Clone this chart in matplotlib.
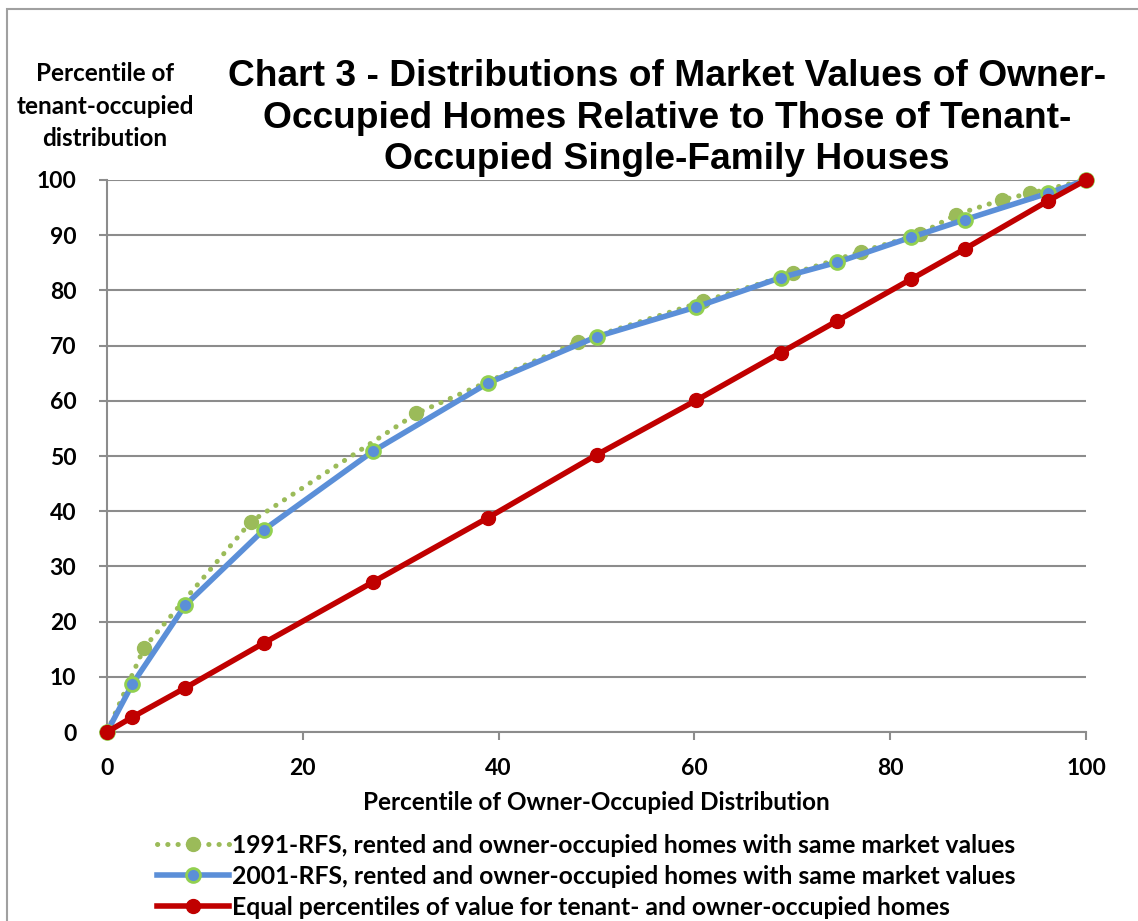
import matplotlib.pyplot as plt
from matplotlib.patches import Rectangle

# owner-occupied percentile (x) / tenant-occupied percentile (y)
x_1991 = [0, 3.8, 14.7, 31.6, 48.1, 60.9, 70.1, 77.0, 83.0, 86.7, 91.4, 94.3, 100]
y_1991 = [0, 15.3, 38.1, 57.7, 70.7, 78.0, 83.1, 87.0, 90.2, 93.7, 96.4, 97.6, 100]

x_2001 = [0, 2.6, 8.0, 16.0, 27.2, 38.9, 50.0, 60.2, 68.8, 74.6, 82.1, 87.6, 96.1, 100]
y_2001 = [0, 8.7, 23.0, 36.6, 50.9, 63.2, 71.6, 77.0, 82.3, 85.1, 89.6, 92.8, 97.6, 100]

x_equal = [0, 2.6, 8.0, 16.0, 27.2, 38.9, 50.0, 60.2, 68.8, 74.6, 82.1, 87.6, 96.1, 100]
y_equal = [0, 2.7, 8.0, 16.1, 27.2, 38.8, 50.2, 60.1, 68.7, 74.5, 82.0, 87.5, 96.2, 100]

labels = ['1991-RFS, rented and owner-occupied homes with same market values',
          '2001-RFS, rented and owner-occupied homes with same market values',
          'Equal percentiles of value for tenant- and owner-occupied homes']

green = '#9BBB59'
blue = '#5B8FD8'
red = '#C00000'
grid = '#8C8C8C'
lab_font = 'Lato'

fig = plt.figure(figsize=(11.38, 9.21), dpi=100)
W, H = 1138, 921
ax = fig.add_axes([107 / W, 1 - 732 / H, (1086 - 107) / W, (732 - 180) / H])

ax.plot(x_1991, y_1991, color=green, lw=3.6, linestyle=(0, (0.05, 2.0)),
        dash_capstyle='round', marker='o', ms=10, mfc=green, mec=green,
        label=labels[0], zorder=3, clip_on=False)
ax.plot(x_2001, y_2001, color=blue, lw=4, marker='o', ms=10, mfc=blue,
        mec='#92D050', mew=2, label=labels[1], zorder=4, clip_on=False)
ax.plot(x_equal, y_equal, color=red, lw=4, marker='o', ms=10, mfc=red,
        mec=red, label=labels[2], zorder=5, clip_on=False)

ax.set_xlim(0, 100)
ax.set_ylim(0, 100)
ax.set_xticks(range(0, 101, 20))
ax.set_yticks(range(0, 101, 10))
ax.grid(axis='y', color=grid, lw=1.5)
ax.set_axisbelow(True)
for s in ['top', 'right']:
    ax.spines[s].set_visible(False)
for s in ['left', 'bottom']:
    ax.spines[s].set_color(grid)
    ax.spines[s].set_linewidth(1.5)
ax.tick_params(axis='both', color=grid, width=1.5, length=6, direction='out')
for t in ax.get_xticklabels() + ax.get_yticklabels():
    t.set_fontfamily(lab_font)
    t.set_fontweight('bold')
    t.set_fontsize(16.5)
ax.tick_params(axis='x', pad=13)
ax.tick_params(axis='y', pad=16)

ax.set_xlabel('Percentile of Owner-Occupied Distribution', fontfamily=lab_font,
              fontweight='bold', fontsize=17.5, labelpad=8)

fig.text(105 / W, 1 - 106 / H, 'Percentile of\ntenant-occupied\ndistribution',
         ha='center', va='center', fontfamily=lab_font, fontweight='bold',
         fontsize=17.5, linespacing=1.5)

fig.text(667 / W, 1 - 118 / H,
         'Chart 3 - Distributions of Market Values of Owner-\n'
         'Occupied Homes Relative to Those of Tenant-\n'
         'Occupied Single-Family Houses',
         ha='center', va='center', fontfamily='Liberation Sans',
         fontweight='bold', fontsize=26.7, linespacing=1.25)

fig.legend(loc='upper left', bbox_to_anchor=(157 / W, 1 - 834 / H),
           frameon=False, numpoints=1, handlelength=2.9, handletextpad=0.15,
           labelspacing=0.32, borderaxespad=0, borderpad=0,
           prop={'family': lab_font, 'weight': 'bold', 'size': 17.8})

fig.patches.append(Rectangle((7 / W, -0.1), 1.2, 1 - 9 / H + 0.1,
                             transform=fig.transFigure, fill=False,
                             edgecolor='#A0A0A0', lw=1.5))

fig.savefig('out.png', dpi=100)
